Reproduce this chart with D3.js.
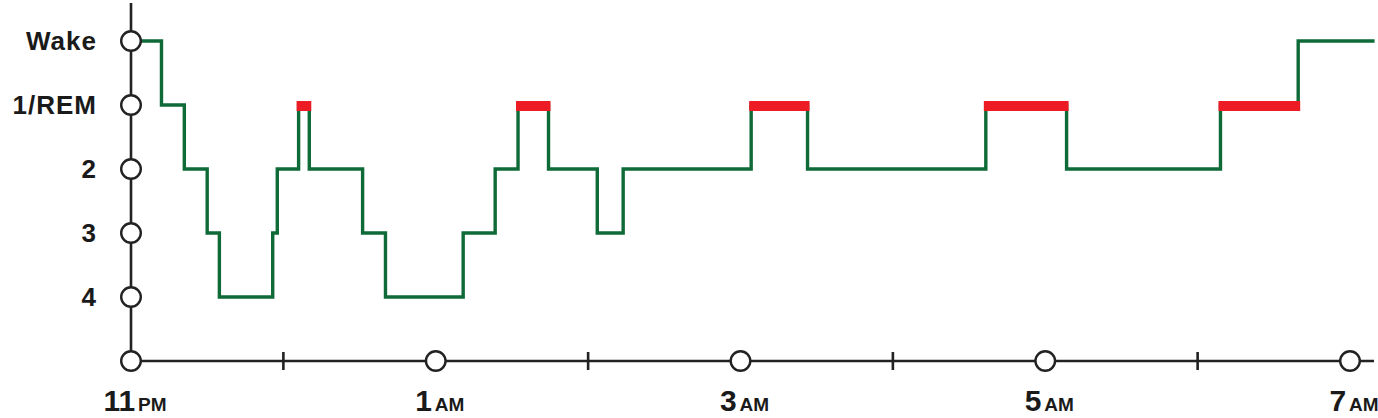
<!DOCTYPE html>
<html>
<head>
<meta charset="utf-8">
<script src="https://cdn.jsdelivr.net/npm/d3@7"></script>
<style>
  html, body { margin: 0; padding: 0; background: #fff; }
  svg { display: block; }
  text { font-family: "Liberation Sans", Arial, Helvetica, sans-serif; font-weight: bold; fill: #1a1a1a; }
</style>
</head>
<body>
<svg id="chart" width="1378" height="418"></svg>
<script>
// ---- data ----
const stageLabels = ["Wake", "1/REM", "2", "3", "4"];
// hours after 11 PM at which each stage begins
const stageStart = [0, 0.2, 0.35, 0.5, 0.58, 0.93, 0.96, 1.1, 1.17, 1.52, 1.67, 2.18, 2.39, 2.54, 2.74, 3.06, 3.23, 4.07, 4.44, 5.61, 6.14, 7.15, 7.66];
// stage index (0 = Wake, 1 = stage 1 / REM, 2..4 = deeper sleep stages)
const stageValue = [0, 1, 2, 3, 4, 3, 2, 1, 2, 3, 4, 3, 2, 1, 2, 3, 2, 1, 2, 1, 2, 1, 0];
// whether the segment is REM sleep (highlighted red)
const remFlag = [0, 0, 0, 0, 0, 0, 0, 1, 0, 0, 0, 0, 0, 1, 0, 0, 0, 1, 0, 1, 0, 1, 0];
const recordEnd = 8.15;
const majorTickHours = [0, 2, 4, 6, 8];
const majorTickNums = ["11", "1", "3", "5", "7"];
const majorTickSuffix = ["PM", "AM", "AM", "AM", "AM"];
const minorTickHours = [1, 3, 5, 7];

// ---- layout ----
const svg = d3.select("#chart");
const x = d3.scaleLinear().domain([0, 8]).range([131, 1350]);
const y = d3.scaleLinear().domain([0, 5]).range([41, 361]);
const axisY = y(5);
const axisColor = "#222";
const green = "#0e6a37";
const red = "#ed1c24";

// axes lines
svg.append("line").attr("x1", x(0)).attr("x2", x(0)).attr("y1", 3).attr("y2", axisY)
  .attr("stroke", axisColor).attr("stroke-width", 2.6);
svg.append("line").attr("x1", x(0)).attr("x2", 1374).attr("y1", axisY).attr("y2", axisY)
  .attr("stroke", axisColor).attr("stroke-width", 2.6);

// minor ticks
svg.selectAll(".minor").data(minorTickHours).join("line")
  .attr("x1", d => x(d)).attr("x2", d => x(d))
  .attr("y1", axisY - 9).attr("y2", axisY + 9)
  .attr("stroke", axisColor).attr("stroke-width", 2.6);

// hypnogram
const pts = stageStart.map((t, i) => [t, stageValue[i]]);
pts.push([recordEnd, stageValue[stageValue.length - 1]]);
const line = d3.line().x(d => x(d[0])).y(d => y(d[1])).curve(d3.curveStepAfter);
svg.append("path").attr("d", line(pts)).attr("fill", "none")
  .attr("stroke", green).attr("stroke-width", 3.4).attr("stroke-linejoin", "miter").attr("stroke-linecap", "square");

// REM bars
const remSegs = [];
remFlag.forEach((f, i) => { if (f) remSegs.push([stageStart[i], i + 1 < stageStart.length ? stageStart[i + 1] : recordEnd]); });
svg.selectAll(".rem").data(remSegs).join("rect")
  .attr("x", d => x(d[0]) - 2).attr("width", d => x(d[1]) - x(d[0]) + 4)
  .attr("y", y(1) - 4).attr("height", 10)
  .attr("fill", red);

// y-axis circles and labels
svg.selectAll(".ycirc").data(stageLabels).join("circle")
  .attr("cx", x(0)).attr("cy", (d, i) => y(i)).attr("r", 9.8)
  .attr("fill", "#fff").attr("stroke", axisColor).attr("stroke-width", 2.4);
svg.selectAll(".ylab").data(stageLabels).join("text")
  .attr("x", 97).attr("y", (d, i) => y(i)).attr("dy", "0.36em")
  .attr("text-anchor", "end").attr("font-size", 26).attr("letter-spacing", 1)
  .text(d => d);

// x-axis circles and labels
svg.selectAll(".xcirc").data(majorTickHours).join("circle")
  .attr("cx", d => x(d)).attr("cy", axisY).attr("r", 9.8)
  .attr("fill", "#fff").attr("stroke", axisColor).attr("stroke-width", 2.4);
const xl = svg.selectAll(".xlab").data(majorTickHours).join("text")
  .attr("x", d => x(d) + 4).attr("y", 411).attr("text-anchor", "middle");
xl.append("tspan").attr("font-size", 30).text((d, i) => majorTickNums[i]);
xl.append("tspan").attr("font-size", 19).attr("dx", 3).text((d, i) => majorTickSuffix[i]);
</script>
</body>
</html>
